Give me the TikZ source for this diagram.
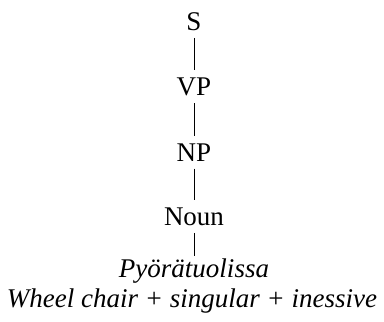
\documentclass[tikz,border=0pt]{standalone}
\usepackage{fontspec}
\setmainfont{Liberation Serif}
\usepackage{tikz}
\usetikzlibrary{positioning}

\tikzset{
  cat/.style={anchor=base, inner sep=7.5pt, font=\fontsize{27}{31}\selectfont},
  gloss/.style={anchor=base, inner sep=2pt, font=\fontsize{27}{31}\selectfont\itshape},
  branch/.style={line width=0.8pt}
}

\begin{document}
\begin{tikzpicture}[x=1pt, y=-1pt]
\useasboundingbox (0,0) rectangle (384,322);

\node[cat] (s) at (194,30) {S};
\node[cat] (vp) at (194,95) {VP};
\node[cat] (np) at (194,161) {NP};
\node[cat] (noun) at (194,225) {Noun};
\node[gloss] (word) at (194,277) {Pyörätuolissa};
\node[gloss] (meaning) at (192,307) {Wheel chair + singular + inessive};

\draw[branch] (s) -- (vp);
\draw[branch] (vp) -- (np);
\draw[branch] (np) -- (noun);
\draw[branch] (noun.south) -- (word.north);

\end{tikzpicture}
\end{document}
